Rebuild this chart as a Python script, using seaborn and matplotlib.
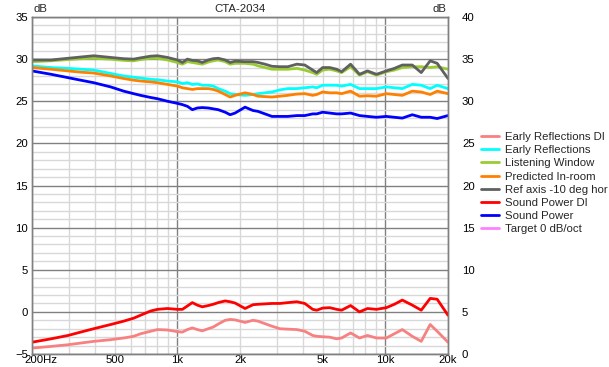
import numpy as np
import pandas as pd
import matplotlib
matplotlib.use("Agg")
import matplotlib.pyplot as plt
import matplotlib.ticker as mticker
import matplotlib.transforms as mtransforms
from matplotlib.lines import Line2D
import seaborn as sns

sns.set_style("white")
plt.rcParams['font.family'] = ['Liberation Sans', 'DejaVu Sans']

# ---------------- data ----------------
freq = [200, 247, 298, 343, 396, 478, 552, 616, 665, 743, 802, 896, 1000, 1057, 1117,
        1180, 1247, 1317, 1407, 1487, 1571, 1697, 1793, 1894, 2115, 2310, 2440, 2637,
        2849, 3111, 3397, 3752, 4097, 4473, 4675, 4994, 5397, 5830, 6160, 6802, 7509,
        8201, 9058, 10110, 11040, 12060, 13470, 14870, 16420, 17740, 20000]

ref_axis = [29.9, 29.9, 30.1, 30.25, 30.4, 30.2, 30.05, 30.0, 30.15, 30.35, 30.4, 30.2, 29.9,
            29.6, 30.0, 29.85, 29.8, 29.6, 29.9, 30.05, 30.1, 29.9, 29.6, 29.75, 29.7, 29.7,
            29.6, 29.4, 29.15, 29.1, 29.1, 29.4, 29.3, 28.7, 28.4, 29.0, 29.0, 28.8, 28.5,
            29.4, 28.2, 28.6, 28.2, 28.6, 28.9, 29.3, 29.3, 28.4, 29.8, 29.5, 27.7]

listening_window = [29.7, 29.8, 29.95, 30.05, 30.1, 30.0, 29.85, 29.8, 29.95, 30.1, 30.1, 29.9,
                    29.6, 29.4, 29.7, 29.6, 29.5, 29.4, 29.65, 29.8, 29.9, 29.7, 29.4, 29.5,
                    29.5, 29.4, 29.2, 29.0, 28.8, 28.8, 28.8, 28.9, 28.7, 28.4, 28.2, 28.7,
                    28.8, 28.6, 28.4, 29.1, 28.1, 28.5, 28.1, 28.5, 28.7, 29.0, 29.1, 29.1,
                    29.0, 29.1, 28.8]

early_reflections = [29.2, 29.0, 28.9, 28.8, 28.7, 28.3, 28.0, 27.85, 27.75, 27.6, 27.55, 27.4,
                     27.3, 27.1, 27.2, 27.0, 27.05, 26.9, 26.9, 26.8, 26.5, 26.2, 25.9, 25.8,
                     25.7, 25.8, 25.9, 26.0, 26.1, 26.35, 26.5, 26.5, 26.6, 26.7, 26.6, 26.9,
                     26.9, 26.9, 26.8, 27.0, 26.5, 26.5, 26.5, 26.7, 26.6, 26.5, 27.0, 26.9,
                     26.5, 26.9, 26.5]

predicted_in_room = [29.0, 28.8, 28.6, 28.45, 28.35, 28.0, 27.7, 27.5, 27.4, 27.3, 27.2, 27.0,
                     26.8, 26.6, 26.5, 26.4, 26.5, 26.5, 26.5, 26.4, 26.2, 25.8, 25.5, 25.7,
                     26.0, 25.8, 25.6, 25.55, 25.5, 25.6, 25.7, 25.85, 25.9, 25.7, 25.8, 26.1,
                     26.0, 26.0, 25.9, 26.2, 25.6, 25.65, 25.6, 25.9, 25.8, 25.7, 26.2, 26.1,
                     25.8, 26.2, 25.9]

sound_power = [28.6, 28.2, 27.8, 27.5, 27.2, 26.7, 26.2, 25.9, 25.7, 25.45, 25.3, 25.0, 24.75,
               24.6, 24.4, 24.0, 24.2, 24.25, 24.2, 24.1, 24.0, 23.7, 23.4, 23.6, 24.3, 23.9,
               23.8, 23.5, 23.2, 23.2, 23.2, 23.3, 23.3, 23.5, 23.5, 23.7, 23.6, 23.5, 23.5,
               23.6, 23.3, 23.2, 23.1, 23.2, 23.1, 23.0, 23.4, 23.1, 23.1, 22.95, 23.3]

# directivity indices (right axis, dB)
sound_power_di = [1.4, 1.8, 2.2, 2.6, 3.0, 3.5, 3.9, 4.25, 4.6, 5.1, 5.3, 5.4, 5.3, 5.3, 5.7,
                  6.1, 5.8, 5.6, 5.75, 5.9, 6.1, 6.3, 6.2, 6.05, 5.4, 5.85, 5.9, 5.95, 6.0,
                  6.0, 6.1, 6.2, 6.0, 5.3, 5.2, 5.45, 5.5, 5.3, 5.2, 5.75, 5.0, 5.4, 5.3,
                  5.5, 5.9, 6.4, 5.8, 5.2, 6.6, 6.5, 4.6]

early_reflections_di = [0.7, 0.9, 1.1, 1.3, 1.5, 1.7, 1.9, 2.1, 2.4, 2.7, 2.9, 2.85, 2.65, 2.6,
                        2.9, 3.1, 2.9, 2.75, 3.0, 3.2, 3.55, 4.0, 4.1, 4.05, 3.75, 4.0, 3.9,
                        3.6, 3.3, 3.0, 2.95, 2.9, 2.7, 2.2, 2.1, 2.05, 2.0, 1.8, 1.9, 2.5, 1.9,
                        2.2, 1.9, 1.9, 2.4, 2.9, 2.1, 1.5, 3.5, 2.7, 1.4]

left_names = ["Listening Window", "Ref axis -10 deg hor", "Early Reflections",
              "Predicted In-room", "Sound Power"]
left_values = [listening_window, ref_axis, early_reflections, predicted_in_room, sound_power]
right_names = ["Early Reflections DI", "Sound Power DI"]
right_values = [early_reflections_di, sound_power_di]

legend_order = ["Early Reflections DI", "Early Reflections", "Listening Window",
                "Predicted In-room", "Ref axis -10 deg hor", "Sound Power DI",
                "Sound Power", "Target 0 dB/oct"]
colors = {
    "Early Reflections DI": "#f78181",
    "Early Reflections": "#00ffff",
    "Listening Window": "#99cc33",
    "Predicted In-room": "#ff8000",
    "Ref axis -10 deg hor": "#606060",
    "Sound Power DI": "#ff0000",
    "Sound Power": "#0000ff",
    "Target 0 dB/oct": "#ff80ff",
}

x_tick_vals = [200, 500, 1000, 2000, 5000, 10000, 20000]
x_tick_labels = ["200Hz", "500", "1k", "2k", "5k", "10k", "20k"]

df_left = pd.DataFrame({
    "freq": np.tile(freq, len(left_names)),
    "dB": np.concatenate(left_values),
    "series": np.repeat(left_names, len(freq)),
})
df_right = pd.DataFrame({
    "freq": np.tile(freq, len(right_names)),
    "dB": np.concatenate(right_values),
    "series": np.repeat(right_names, len(freq)),
})

# ---------------- figure ----------------
W, H, DPI = 609, 367, 100
fig = plt.figure(figsize=(W / DPI, H / DPI), dpi=DPI)
L, R, T, B = 32, 448, 17, 354
ax = fig.add_axes([L / W, 1 - B / H, (R - L) / W, (B - T) / H])
ax.set_xscale("log")
ax2 = ax.twinx()

fs = 8.2
major_grid = "#808080"
minor_grid = "#d8d8d8"

sns.lineplot(data=df_left, x="freq", y="dB", hue="series", hue_order=left_names,
             palette=colors, linewidth=2.0, ax=ax, legend=False, sort=False)
sns.lineplot(data=df_right, x="freq", y="dB", hue="series", hue_order=right_names,
             palette=colors, linewidth=2.0, ax=ax2, legend=False, sort=False)

ax.set_xlim(200, 20000)
ax.set_ylim(-5, 35)
ax2.set_ylim(0, 40)

# ticks / grid (set after plotting so nothing resets them)
ax.xaxis.set_major_locator(mticker.FixedLocator(x_tick_vals))
ax.xaxis.set_major_formatter(mticker.FixedFormatter(x_tick_labels))
ax.xaxis.set_minor_locator(mticker.LogLocator(base=10, subs=np.arange(2, 10), numticks=20))
ax.xaxis.set_minor_formatter(mticker.NullFormatter())
ax.yaxis.set_major_locator(mticker.MultipleLocator(5))
ax.yaxis.set_minor_locator(mticker.MultipleLocator(1))
ax2.yaxis.set_major_locator(mticker.MultipleLocator(5))
ax2.yaxis.set_minor_locator(mticker.NullLocator())
ax.grid(which="minor", color=minor_grid, linewidth=1.0)
ax.grid(which="major", axis="y", color=major_grid, linewidth=1.0)
ax.grid(which="major", axis="x", color=minor_grid, linewidth=1.0)
ax.set_axisbelow(True)
ax2.grid(False)

for a in (ax, ax2):
    a.set_xlabel("")
    a.set_ylabel("")
    for s in a.spines.values():
        s.set_color(major_grid)
        s.set_linewidth(1.0)
    a.tick_params(which="both", length=0, labelsize=fs, colors="black")

ax.tick_params(axis="x", pad=0.5)
ax.tick_params(axis="y", pad=3)
ax2.tick_params(axis="y", pad=10)

fig.canvas.draw()
# dark verticals at decades
for tick in ax.xaxis.get_major_ticks():
    if tick.get_loc() in (1000, 10000):
        tick.gridline.set_color(major_grid)
# shift first x tick label like the original
first = ax.xaxis.get_major_ticks()[0].label1
first.set_horizontalalignment("left")
first.set_transform(first.get_transform() + mtransforms.ScaledTranslation(-8 / DPI, 0, fig.dpi_scale_trans))

# texts
ax.text(0.0, 1.0, "dB", transform=ax.transAxes + mtransforms.ScaledTranslation(1 / DPI, 3 / DPI, fig.dpi_scale_trans),
        ha="left", va="bottom", fontsize=fs)
ax.text(1.0, 1.0, "dB", transform=ax.transAxes + mtransforms.ScaledTranslation(-2 / DPI, 3 / DPI, fig.dpi_scale_trans),
        ha="right", va="bottom", fontsize=fs)
ax.text(0.5, 1.0, "CTA-2034", transform=ax.transAxes + mtransforms.ScaledTranslation(0, 3 / DPI, fig.dpi_scale_trans),
        ha="center", va="bottom", fontsize=fs)

handles = [Line2D([], [], color=colors[n], linewidth=2.0) for n in legend_order]
fig.legend(handles, legend_order, loc="upper left", bbox_to_anchor=(481 / W, 1 - 132 / H),
           frameon=False, fontsize=fs, handlelength=1.6, handletextpad=0.5,
           labelspacing=0.28, borderpad=0, borderaxespad=0)

fig.savefig("out.png", dpi=DPI)
